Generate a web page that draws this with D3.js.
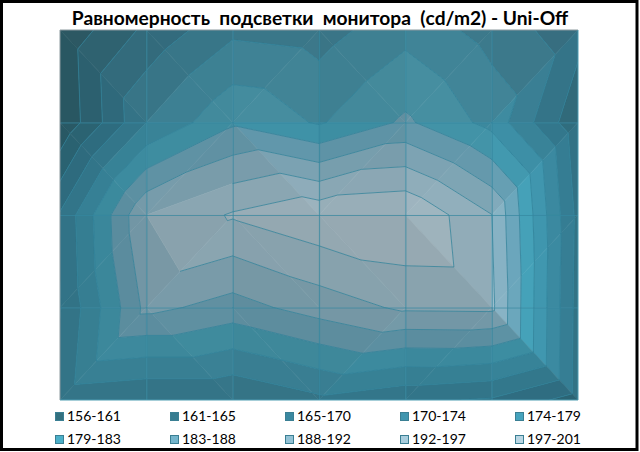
<!DOCTYPE html>
<html>
<head>
<meta charset="utf-8" />
<title>Uni-Off</title>
<script src="https://d3js.org/d3.v7.min.js"></script>
<style>
    body { margin: 0; background: white; }
    svg { display: block; }
    text { font-family: Lato, "Open Sans", sans-serif; fill: #000; white-space: pre; }
</style>
</head>
<body>
<svg id="chart" width="640" height="452"></svg>
<script>

    var titleText = "Равномерность  подсветки  монитора  (cd/m2) - Uni-Off";

    // brightness read at each measuring point, top row first
    var row0 = [157, 166, 173, 172, 177, 172.2, 166.8];
    var row1 = [156.3, 174, 182.3, 178, 183.8, 177, 161.5];
    var row2 = [170, 192, 197, 200, 201, 192.1, 163.7];
    var row3 = [169.3, 188.8, 185.7, 189.5, 192.8, 193, 163.3];
    var row4 = [171, 169.6, 169.6, 173, 170.4, 169, 163];
    var rows = [row0, row1, row2, row3, row4];

    // which way each cell is cut: 1 = top left to bottom right, 0 = the other way
    var cut0 = [1, 1, 0, 1, 0, 0];
    var cut1 = [1, 0, 1, 0, 0, 0];
    var cut2 = [0, 0, 1, 1, 1, 0];
    var cut3 = [0, 1, 1, 0, 0, 1];
    var cuts = [cut0, cut1, cut2, cut3];

    var bandEdges = [156, 160.5, 165, 169.5, 174, 178.5, 183, 187.5, 192, 196.5, 201];
    var bandLabels = ["156-161", "161-165", "165-170", "170-174", "174-179",
                      "179-183", "183-188", "188-192", "192-197", "197-201"];
    var bandColors = ["#33707f", "#367c90", "#3a88a0", "#4095ae", "#45a3bd",
                      "#4bafc8", "#74b5cc", "#93c2d5", "#a9cede", "#bad6e3"];

    var svg = d3.select("#chart");

    var x = d3.scaleLinear().domain([0, 6]).range([60, 578]);
    var y = d3.scaleLinear().domain([0, 4]).range([30, 400]);
    var line = d3.line().x(function(p) { return x(p[0]); }).y(function(p) { return y(p[1]); });

    svg.append("rect").attr("x", 1.5).attr("y", 1.5).attr("width", 635.5).attr("height", 448)
        .attr("fill", "white").attr("stroke", "black").attr("stroke-width", 3);

    svg.append("text").attr("x", 320).attr("y", 25).attr("text-anchor", "middle")
        .style("font-size", "19.2px").style("font-weight", "700").text(titleText);

    svg.append("clipPath").attr("id", "plot-clip").append("rect")
        .attr("x", x(0)).attr("y", y(0)).attr("width", x(6) - x(0)).attr("height", y(4) - y(0));

    // split the grid into triangles
    var triangles = [];
    cuts.forEach(function(cutRow, r) {
        cutRow.forEach(function(cut, c) {
            var tl = [c, r, rows[r][c]], tr = [c + 1, r, rows[r][c + 1]];
            var bl = [c, r + 1, rows[r + 1][c]], br = [c + 1, r + 1, rows[r + 1][c + 1]];
            if (cut == 1) {
                triangles.push([tl, tr, br], [tl, br, bl]);
            } else {
                triangles.push([tl, tr, bl], [tr, br, bl]);
            }
        });
    });

    function crossing(a, b, level) {
        var t = (level - a[2]) / (b[2] - a[2]);
        return [a[0] + t * (b[0] - a[0]), a[1] + t * (b[1] - a[1]), level];
    }

    // keep the part of a polygon above (sign 1) or below (sign -1) a level
    function clipPoly(poly, level, sign) {
        var out = [];
        poly.forEach(function(p, i) {
            var q = poly[(i + 1) % poly.length];
            var pIn = sign * (p[2] - level) >= 0, qIn = sign * (q[2] - level) >= 0;
            if (pIn) out.push(p);
            if (pIn != qIn) out.push(crossing(p, q, level));
        });
        return out;
    }

    // excel style lighting: the slope of a triangle darkens or lifts its colour
    function shade(tri, color) {
        var ax = x(tri[1][0]) - x(tri[0][0]), ay = y(tri[1][1]) - y(tri[0][1]), az = tri[1][2] - tri[0][2];
        var bx = x(tri[2][0]) - x(tri[0][0]), by = y(tri[2][1]) - y(tri[0][1]), bz = tri[2][2] - tri[0][2];
        var det = ax * by - bx * ay;
        var gx = (az * by - bz * ay) / det, gy = (ax * bz - bx * az) / det;
        var k = Math.min(1, 0.8 - 0.1 * Math.max(gx, 0) + 0.36 * Math.max(-gx, 0) + 0.08 * gy);
        var flat = Math.max(0, 1 - Math.hypot(gx, gy) / 0.25);
        var c = d3.rgb(color);
        var grey = (c.r + c.g + c.b) / 3;
        var mix = 0.2 * flat;
        return d3.rgb(k * (c.r + mix * (grey - c.r)), k * (c.g + mix * (grey - c.g)), k * (c.b + mix * (grey - c.b))).formatHex();
    }

    var surface = svg.append("g").attr("clip-path", "url(#plot-clip)");

    triangles.forEach(function(tri) {
        bandColors.forEach(function(color, i) {
            var poly = clipPoly(clipPoly(tri, bandEdges[i], 1), bandEdges[i + 1], -1);
            if (poly.length < 3) return;
            var fill = shade(tri, color);
            surface.append("path").attr("d", line(poly) + "Z")
                .attr("fill", fill).attr("stroke", fill).attr("stroke-width", 0.6);
        });
    });

    // contour lines
    triangles.forEach(function(tri) {
        bandEdges.slice(1, -1).forEach(function(level) {
            var pts = [];
            tri.forEach(function(p, i) {
                var q = tri[(i + 1) % 3];
                if ((p[2] - level) * (q[2] - level) < 0) pts.push(crossing(p, q, level));
            });
            if (pts.length == 2) {
                surface.append("path").attr("d", line(pts)).attr("fill", "none")
                    .attr("stroke", "#2f8198").attr("stroke-width", 0.9).attr("stroke-opacity", 0.85);
            }
        });
    });

    // mesh lines through the measuring points
    var gridX = d3.axisBottom(x).tickValues(d3.range(1, 6)).tickSize(-(y(4) - y(0))).tickFormat("");
    var gridY = d3.axisLeft(y).tickValues(d3.range(1, 4)).tickSize(-(x(6) - x(0))).tickFormat("");

    [svg.append("g").attr("transform", "translate(0," + y(4) + ")").call(gridX),
     svg.append("g").attr("transform", "translate(" + x(0) + ",0)").call(gridY)].forEach(function(g) {
        g.select(".domain").remove();
        g.selectAll("line").attr("stroke", "#35879f").attr("stroke-width", 1.2).attr("stroke-opacity", 0.7);
    });

    // plot edge
    svg.append("path").attr("d", "M" + x(0) + "," + y(4) + "V" + y(0) + "H" + x(6))
        .attr("fill", "none").attr("stroke", "#8d9a9f").attr("stroke-width", 1);
    svg.append("path").attr("d", "M" + x(0) + "," + y(4) + "H" + x(6) + "V" + y(0))
        .attr("fill", "none").attr("stroke", "#4f9db2").attr("stroke-width", 1);

    // legend
    var legendX = d3.scalePoint().domain(d3.range(5)).range([55, 515]);
    var legendY = d3.scalePoint().domain([0, 1]).range([412, 435]);

    var items = svg.selectAll(".legend-item").data(bandLabels).enter().append("g")
        .attr("class", "legend-item")
        .attr("transform", function(d, i) {
            return "translate(" + legendX(i % 5) + "," + legendY(Math.floor(i / 5)) + ")";
        });

    items.append("rect").attr("x", 0.5).attr("y", 0.5).attr("width", 8).attr("height", 8)
        .attr("fill", function(d, i) { return bandColors[i]; })
        .attr("stroke", "#3a7f93").attr("stroke-width", 1);

    items.append("text").attr("x", 12).attr("y", 8.5)
        .style("font-size", "14px").text(function(d) { return d; });

</script>
</body>
</html>
